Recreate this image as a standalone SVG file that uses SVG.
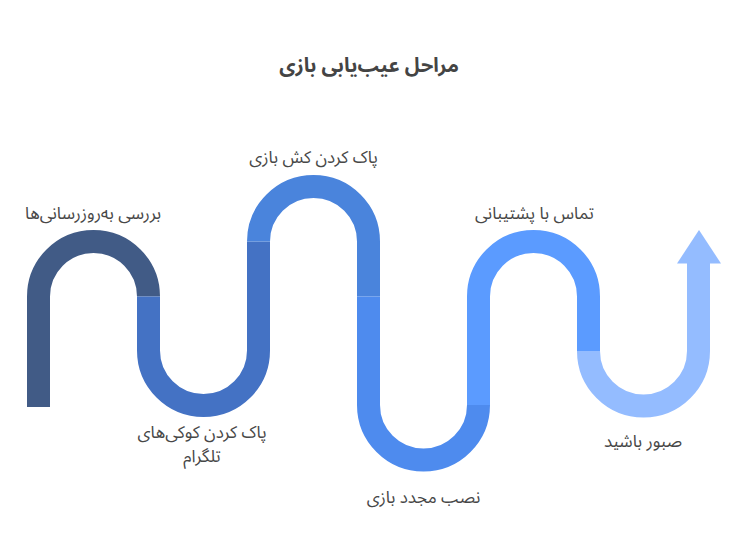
<svg xmlns="http://www.w3.org/2000/svg" width="743" height="550" viewBox="0 0 743 550">
<style>
.seg{fill:none;stroke-width:23;stroke-linecap:butt}
.lbl{font-family:"Noto Sans Arabic","Vazirmatn","Noto Sans","DejaVu Sans",sans-serif;font-size:17px;fill:#474747;text-anchor:middle}
.title{font-family:"Noto Sans Arabic","Vazirmatn","Noto Sans","DejaVu Sans",sans-serif;font-size:20px;font-weight:bold;fill:#444;text-anchor:middle}
</style>
<rect width="743" height="550" fill="#fff"/>
<text class="title" x="369" y="72" direction="rtl">مراحل عیب‌یابی بازی</text>
<g id="connectors">
<path class="seg" stroke="#415B86" d="M38.5,407 V296.5 A55,55 0 0 1 148.5,296.5"/>
<path class="seg" stroke="#4472C4" d="M148.5,296.5 V350.5 A55,55 0 0 0 258.5,350.5 V241.5"/>
<path class="seg" stroke="#4A84DC" d="M258.5,241.5 A55,55 0 0 1 368.5,241.5 V296.5"/>
<path class="seg" stroke="#4E8BEE" d="M368.5,296.5 V405 A55,55 0 0 0 478.5,405"/>
<path class="seg" stroke="#5B9BFF" d="M478.5,405 V296.5 A55,55 0 0 1 588.5,296.5 V351"/>
<path class="seg" stroke="#94BCFF" d="M588.5,351 A55,55 0 0 0 698.5,351 V263"/>
<polygon fill="#94BCFF" points="677,263.5 721,263.5 699,230"/>
</g>
<g id="n1"><text class="lbl" x="93" y="219" direction="rtl">بررسی به‌روزرسانی‌ها</text></g>
<g id="n2"><text class="lbl" x="202" y="438" direction="rtl">پاک کردن کوکی‌های</text><text class="lbl" x="202" y="462" direction="rtl">تلگرام</text></g>
<g id="n3"><text class="lbl" x="313.5" y="163" direction="rtl">پاک کردن کش بازی</text></g>
<g id="n4"><text class="lbl" x="423.5" y="503" direction="rtl">نصب مجدد بازی</text></g>
<g id="n5"><text class="lbl" x="534.5" y="219" direction="rtl">تماس با پشتیبانی</text></g>
<g id="n6"><text class="lbl" x="643" y="447" direction="rtl">صبور باشید</text></g>
</svg>
